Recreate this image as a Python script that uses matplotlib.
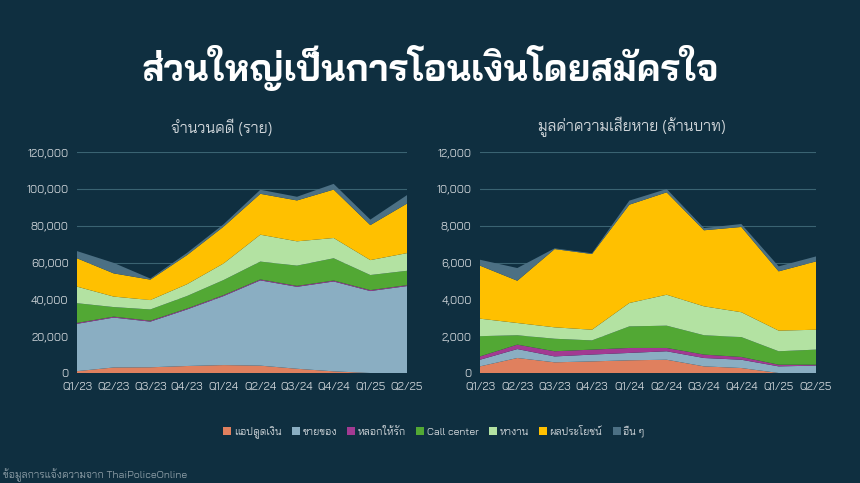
import matplotlib
matplotlib.use("Agg")
import matplotlib.pyplot as plt
from matplotlib.patches import Patch
import numpy as np


quarters = ["Q1/23", "Q2/23", "Q3/23", "Q4/23", "Q1/24", "Q2/24", "Q3/24", "Q4/24", "Q1/25", "Q2/25"]
series_names = ["แอปดูดเงิน", "ขายของ", "หลอกให้รัก", "Call center", "หางาน", "ผลประโยชน์", "อื่น ๆ"]

# จำนวนคดี (ราย)
cases_app = [1000, 3000, 3100, 3800, 4300, 4000, 2300, 900, 0, 0]
cases_shop = [25700, 27100, 24800, 30700, 37500, 46300, 44500, 48800, 44500, 47200]
cases_romance = [500, 500, 500, 500, 500, 500, 500, 500, 500, 500]
cases_callcenter = [10700, 5200, 6100, 6800, 8200, 9700, 11000, 12100, 8200, 7800]
cases_job = [9000, 5700, 5100, 6400, 9000, 14600, 13200, 11000, 8100, 9600]
cases_benefit = [15400, 12600, 11100, 15800, 20000, 22200, 22200, 26300, 19000, 26900]
cases_other = [3900, 5700, 600, 1200, 1300, 2200, 2000, 3100, 3000, 4600]

# มูลค่าความเสียหาย (ล้านบาท)
loss_app = [360, 815, 580, 630, 690, 720, 360, 270, 0, 0]
loss_shop = [360, 485, 320, 370, 400, 460, 455, 450, 360, 400]
loss_romance = [180, 240, 280, 270, 270, 180, 185, 150, 90, 50]
loss_callcenter = [1100, 510, 680, 500, 1170, 1210, 1050, 1080, 730, 820]
loss_job = [950, 665, 620, 580, 1270, 1680, 1570, 1350, 1120, 1080]
loss_benefit = [2880, 2295, 4250, 4110, 5340, 5560, 4130, 4630, 3220, 3710]
loss_other = [320, 690, 40, 40, 220, 180, 120, 160, 270, 270]

colors = ["#e0805e", "#8aaec2", "#a23a92", "#52a834", "#b3e2a2", "#ffc000", "#4c7084"]
bg = "#0f2f40"
text_col = "#d0d6da"
grid_col = "#3a6372"

plt.rcParams["font.family"] = ["Bai Jamjuree", "Kanit", "DejaVu Sans"]

fig = plt.figure(figsize=(8.6, 4.83), dpi=100, facecolor=bg)


def draw(rect, data, ymax, step):
    ax = fig.add_axes(rect)
    ax.set_facecolor(bg)
    x = np.arange(len(quarters))
    ax.stackplot(x, *data, colors=colors, linewidth=0)
    ax.set_xlim(0, len(quarters) - 1)
    ax.set_ylim(0, ymax)
    ax.set_yticks(np.arange(0, ymax + 1, step))
    ax.set_yticklabels([f"{v:,}" for v in np.arange(0, ymax + 1, step)])
    ax.set_xticks(x)
    ax.set_xticklabels(quarters)
    ax.tick_params(colors=text_col, labelsize=8, length=0, pad=6)
    ax.grid(axis="y", color=grid_col, linewidth=0.8)
    ax.set_axisbelow(True)
    for s in ax.spines.values():
        s.set_visible(False)
    return ax


W, H = 860, 483
draw([77 / W, 1 - 373 / H, 330 / W, 221 / H],
     [cases_app, cases_shop, cases_romance, cases_callcenter, cases_job, cases_benefit, cases_other],
     120000, 20000)
draw([480 / W, 1 - 373 / H, 336 / W, 221 / H],
     [loss_app, loss_shop, loss_romance, loss_callcenter, loss_job, loss_benefit, loss_other],
     12000, 2000)

fig.text(430 / W, 1 - 68 / H, "ส่วนใหญ่เป็นการโอนเงินโดยสมัครใจ", ha="center", va="center",
         color="white", fontsize=26.5, fontweight="bold")
fig.text(222 / W, 1 - 127 / H, "จำนวนคดี (ราย)", ha="center", va="center", color=text_col, fontsize=11)
fig.text(632 / W, 1 - 127 / H, "มูลค่าความเสียหาย (ล้านบาท)", ha="center", va="center", color=text_col, fontsize=11)

handles = [Patch(facecolor=c, edgecolor="none") for c in colors]
leg = fig.legend(handles, series_names, loc="center", bbox_to_anchor=(434 / W, 1 - 432 / H), ncol=7,
                 frameon=False, fontsize=7.5, handlelength=0.75, handleheight=0.9,
                 handletextpad=0.25, columnspacing=1.0)
for t in leg.get_texts():
    t.set_color(text_col)

fig.text(3 / W, 1 - 475 / H, "ข้อมูลการแจ้งความจาก ThaiPoliceOnline", ha="left", va="center",
         color="#8a9ba4", fontsize=7.5)

fig.savefig("out.png", dpi=100, facecolor=bg)
